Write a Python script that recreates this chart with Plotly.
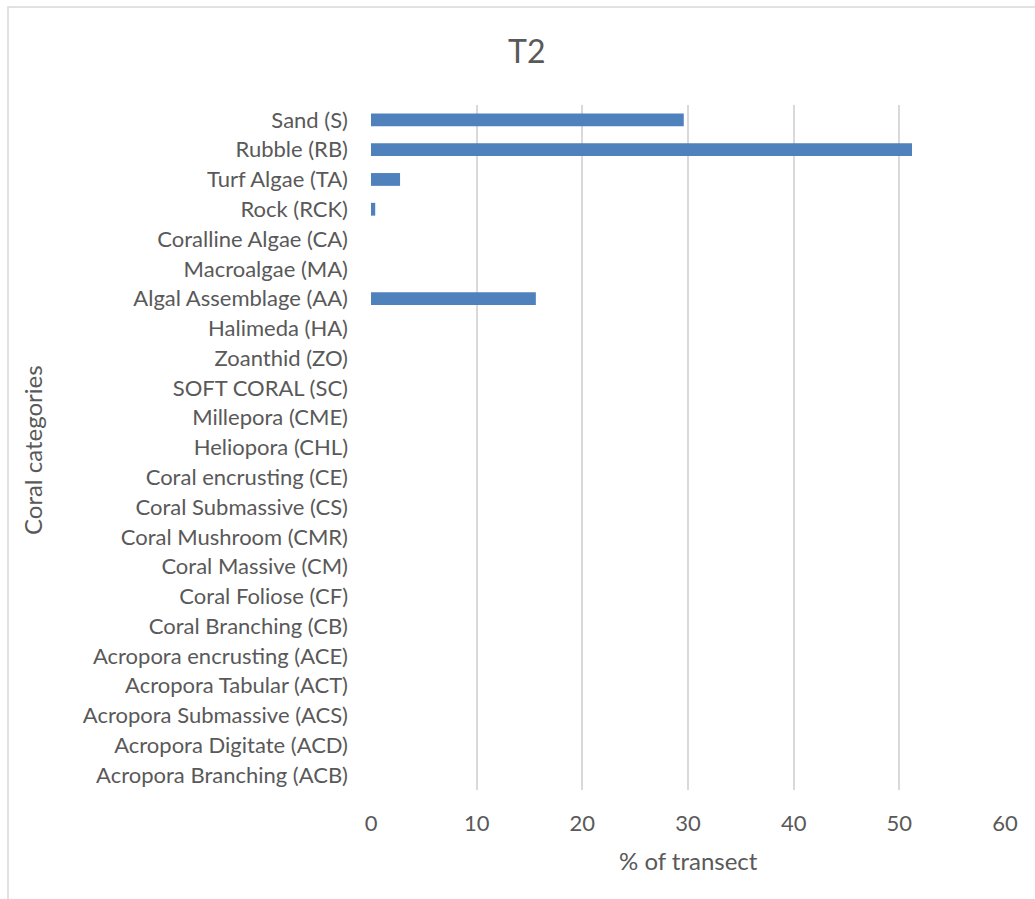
import plotly.graph_objects as go

categories = [
    "Sand (S)", "Rubble (RB)", "Turf Algae (TA)", "Rock (RCK)",
    "Coralline Algae (CA)", "Macroalgae (MA)", "Algal Assemblage (AA)",
    "Halimeda (HA)", "Zoanthid (ZO)", "SOFT CORAL (SC)", "Millepora (CME)",
    "Heliopora (CHL)", "Coral encrusting (CE)", "Coral Submassive (CS)",
    "Coral Mushroom (CMR)", "Coral Massive (CM)", "Coral Foliose (CF)",
    "Coral Branching (CB)", "Acropora encrusting (ACE)", "Acropora Tabular (ACT)",
    "Acropora Submassive (ACS)", "Acropora Digitate (ACD)", "Acropora Branching (ACB)",
]
values = [29.6, 51.2, 2.75, 0.4, 0, 0, 15.6, 0, 0, 0, 0, 0, 0, 0, 0, 0, 0, 0, 0, 0, 0, 0, 0]
x_ticks = [0, 10, 20, 30, 40, 50, 60]

FONT = "Lato"
GREY = "#595959"

fig = go.Figure(go.Bar(
    x=values, y=categories, orientation="h",
    marker=dict(color="#4f81bd", line=dict(width=0)),
    width=0.43,
))

L, R, T, B = 371, 30, 105, 109
W, H = 1035, 899
pw, ph = W - L - R, H - T - B


def px(xp):
    return (xp - L) / pw


def py(yp):
    return (H - B - yp) / ph


fig.update_layout(
    width=W, height=H,
    margin=dict(l=L, r=R, t=T, b=B),
    paper_bgcolor="white", plot_bgcolor="white",
    showlegend=False,
    font=dict(family=FONT, color=GREY, size=22),
    xaxis=dict(range=[0, 60], tickvals=x_ticks, showgrid=True, gridcolor="#d9d9d9",
               gridwidth=1.5, zeroline=False, showline=False, ticks="",
               tickfont=dict(size=22, color=GREY), ticklabelstandoff=18),
    yaxis=dict(autorange="reversed", showgrid=False, ticks="", showline=False,
               tickfont=dict(size=22, color=GREY), ticklabelstandoff=22),
    annotations=[
        dict(text="T2", xref="paper", yref="paper", x=px(526), y=py(51),
             xanchor="center", yanchor="middle", showarrow=False,
             font=dict(size=32, color=GREY, family=FONT)),
        dict(text="% of transect", xref="paper", yref="paper", x=px(688), y=py(860),
             xanchor="center", yanchor="middle", showarrow=False,
             font=dict(size=24, color=GREY, family=FONT)),
        dict(text="Coral categories", xref="paper", yref="paper", x=px(33), y=py(450),
             xanchor="center", yanchor="middle", showarrow=False, textangle=-90,
             font=dict(size=24, color=GREY, family=FONT)),
    ],
    shapes=[dict(type="rect", xref="paper", yref="paper",
                 x0=px(8), x1=px(1045), y0=py(910), y1=py(7),
                 line=dict(color="#d9d9d9", width=1.5), fillcolor="rgba(0,0,0,0)", layer="below")],
)

fig.write_html("out.html")
